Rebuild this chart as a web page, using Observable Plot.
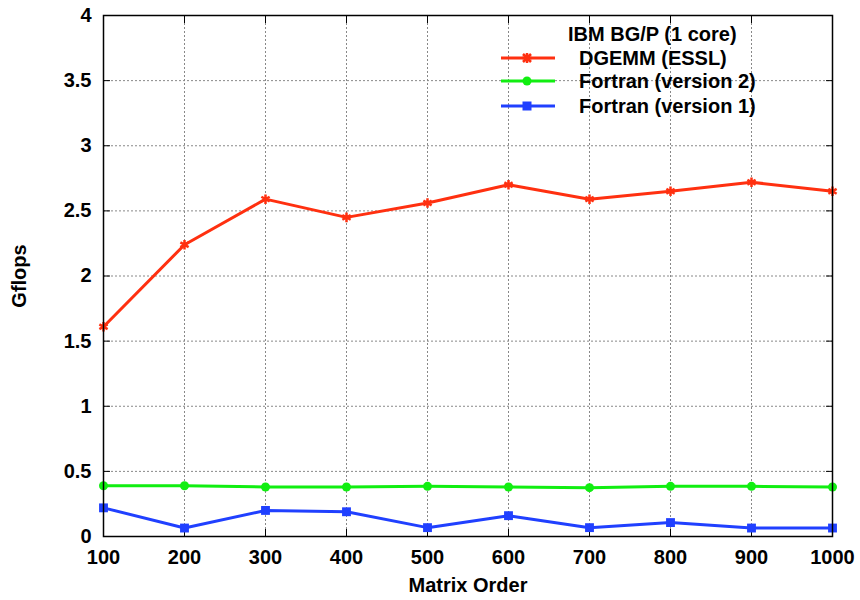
<!DOCTYPE html>
<html>
<head>
<meta charset="utf-8">
<script src="https://cdn.jsdelivr.net/npm/d3@7"></script>
<script src="https://cdn.jsdelivr.net/npm/@observablehq/plot@0.6"></script>
<style>
  html, body { margin: 0; padding: 0; background: #fff; }
  #wrap { position: relative; width: 860px; height: 600px; font-family: "Liberation Sans", Arial, sans-serif; font-weight: bold; }
  .legend { position: absolute; left: 0; top: 0; font-size: 20px; color: #000; }
  .legend .title { position: absolute; left: 568px; top: 22px; white-space: nowrap; line-height: 24px; }
  .legend .row { position: absolute; left: 500px; white-space: nowrap; line-height: 24px; height: 24px; }
  .legend .row svg { position: absolute; left: 0; top: 0; }
  .legend .row span { position: absolute; left: 79px; top: 0; }
</style>
</head>
<body>
<div id="wrap"></div>
<script>
// ---- data ----
const matrixOrders = [100, 200, 300, 400, 500, 600, 700, 800, 900, 1000];
const dgemmESSL   = [1.61, 2.24, 2.59, 2.45, 2.56, 2.70, 2.59, 2.65, 2.72, 2.65];
const fortranV2   = [0.39, 0.39, 0.38, 0.38, 0.385, 0.38, 0.375, 0.385, 0.385, 0.38];
const fortranV1   = [0.22, 0.065, 0.20, 0.19, 0.068, 0.16, 0.068, 0.107, 0.065, 0.065];
const seriesNames = ["DGEMM (ESSL)", "Fortran (version 2)", "Fortran (version 1)"];
const seriesColors = ["#ff3010", "#11ee11", "#2040ff"];
const seriesSymbols = ["asterisk", "circle", "square"];
const legendTitle = "IBM BG/P (1 core)";
const xTicks = [100, 200, 300, 400, 500, 600, 700, 800, 900, 1000];
const yTicks = [0, 0.5, 1, 1.5, 2, 2.5, 3, 3.5, 4];

const seriesValues = [dgemmESSL, fortranV2, fortranV1];
const rows = [];
seriesValues.forEach((vals, si) => {
  vals.forEach((v, i) => rows.push({series: seriesNames[si], order: matrixOrders[i], gflops: v}));
});

const marks = [
  Plot.gridX(xTicks, {stroke: "#888", strokeOpacity: 1, strokeDasharray: "2,2", strokeWidth: 1}),
  Plot.gridY(yTicks, {stroke: "#888", strokeOpacity: 1, strokeDasharray: "2,2", strokeWidth: 1}),
  // inward ticks on all four sides
  Plot.axisX(xTicks, {anchor: "bottom", tickSize: -7, text: null, label: null, stroke: "#000"}),
  Plot.axisX(xTicks, {anchor: "top", tickSize: -7, text: null, label: null, stroke: "#000"}),
  Plot.axisY(yTicks, {anchor: "left", tickSize: -7, text: null, label: null, stroke: "#000"}),
  Plot.axisY(yTicks, {anchor: "right", tickSize: -7, text: null, label: null, stroke: "#000"}),
  // tick labels + titles
  Plot.axisX(xTicks, {anchor: "bottom", tickSize: 0, tickPadding: 13, label: "Matrix Order", labelAnchor: "center", labelArrow: "none", labelOffset: 55, fontSize: 20, fontWeight: "bold", tickFormat: d => String(d)}),
  Plot.axisY(yTicks, {anchor: "left", tickSize: 0, tickPadding: 12, label: "Gflops", labelAnchor: "center", labelArrow: "none", labelOffset: 92, fontSize: 20, fontWeight: "bold", tickFormat: d => String(d)}),
];
seriesNames.forEach((name, si) => {
  const data = rows.filter(r => r.series === name);
  marks.push(Plot.line(data, {x: "order", y: "gflops", stroke: seriesColors[si], strokeWidth: 3}));
  if (seriesSymbols[si] === "asterisk") {
    marks.push(Plot.dot(data, {x: "order", y: "gflops", symbol: "asterisk", stroke: seriesColors[si], strokeWidth: 2.5, r: 4.5}));
  } else {
    marks.push(Plot.dot(data, {x: "order", y: "gflops", symbol: seriesSymbols[si], fill: seriesColors[si], stroke: "none", r: seriesSymbols[si] === "square" ? 5 : 4.5}));
  }
});
marks.push(Plot.frame({stroke: "#000", strokeWidth: 1.5}));

const chart = Plot.plot({
  width: 860,
  height: 600,
  marginLeft: 103,
  marginRight: 28,
  marginTop: 15,
  marginBottom: 64,
  style: {fontFamily: "'Liberation Sans', Arial, sans-serif", fontWeight: "bold", fontSize: "20px", color: "#000", background: "#fff", overflow: "visible"},
  x: {domain: [100, 1000], axis: null},
  y: {domain: [0, 4], axis: null},
  marks
});
const wrap = document.getElementById("wrap");
wrap.appendChild(chart);

// legend overlay
const legend = document.createElement("div");
legend.className = "legend";
const t = document.createElement("div");
t.className = "title";
t.textContent = legendTitle;
legend.appendChild(t);
const rowTops = [46, 69, 94];
seriesNames.forEach((name, si) => {
  const row = document.createElement("div");
  row.className = "row";
  row.style.top = rowTops[si] + "px";
  const c = seriesColors[si];
  let sym;
  if (seriesSymbols[si] === "asterisk") {
    sym = `<path d="M23,8 L31,16 M31,8 L23,16 M27,7 L27,17 M22,12 L32,12" stroke="${c}" stroke-width="2.5"/>`;
  } else if (seriesSymbols[si] === "circle") {
    sym = `<circle cx="27" cy="12" r="4.5" fill="${c}"/>`;
  } else {
    sym = `<rect x="22.5" y="7.5" width="9" height="9" fill="${c}"/>`;
  }
  row.innerHTML = `<svg width="60" height="24"><line x1="1" x2="55" y1="12" y2="12" stroke="${c}" stroke-width="3"/>${sym}</svg><span>${name}</span>`;
  legend.appendChild(row);
});
wrap.appendChild(legend);
</script>
</body>
</html>
